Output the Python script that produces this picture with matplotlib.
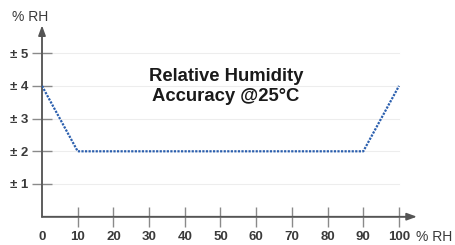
import matplotlib
matplotlib.use("Agg")
import matplotlib.pyplot as plt

plt.rcParams['font.family'] = ['Liberation Sans', 'DejaVu Sans']

humidity = [0, 10, 90, 100]
accuracy = [4, 2, 2, 4]
x_ticks = [0, 10, 20, 30, 40, 50, 60, 70, 80, 90, 100]
y_ticks = [1, 2, 3, 4, 5]
y_labels = ["± 1", "± 2", "± 3", "± 4", "± 5"]

W, H = 456, 245
fig = plt.figure(figsize=(W / 100, H / 100), dpi=100)
px_unit_x = 3.57
px_unit_y = 32.7
x0, y0 = 42, 216.7
xmax, ymax = 105, 5.85
ax = fig.add_axes([x0 / W, (H - y0) / H, xmax * px_unit_x / W, ymax * px_unit_y / H])
ax.set_xlim(0, xmax)
ax.set_ylim(0, ymax)
for s in ax.spines.values():
    s.set_visible(False)

axis_col = '#8a8a8a'
lab_col = '#3a3a3a'
# gridlines
for yv in y_ticks:
    ax.plot([0, 100], [yv, yv], color='#ededed', lw=0.8, zorder=1)

# axes with arrows
ax.annotate('', xy=(xmax, 0), xytext=(0, 0),
            arrowprops=dict(arrowstyle='-|>,head_length=0.6,head_width=0.22', color='#555555', lw=1.2,
                            shrinkA=0, shrinkB=0), annotation_clip=False)
ax.annotate('', xy=(0, ymax), xytext=(0, 0),
            arrowprops=dict(arrowstyle='-|>,head_length=0.6,head_width=0.22', color='#555555', lw=1.2,
                            shrinkA=0, shrinkB=0), annotation_clip=False)
ax.plot([0, 0], [0, ymax - 0.2], color=axis_col, lw=1.2, clip_on=False)
ax.plot([0, xmax - 2], [0, 0], color=axis_col, lw=1.2, clip_on=False)

ax.plot(humidity, accuracy, color='#2b5fae', lw=1.6, ls=(0, (1, 0.6)), zorder=3)

ax.set_xticks(x_ticks)
ax.set_xticklabels([str(v) for v in x_ticks])
ax.set_yticks(y_ticks)
ax.set_yticklabels(y_labels)
ax.tick_params(axis='both', direction='inout', length=14, width=1, color=axis_col,
               labelsize=9.5, labelcolor=lab_col)
ax.tick_params(axis='x', pad=3)
ax.tick_params(axis='y', pad=3)
for lab in ax.get_xticklabels() + ax.get_yticklabels():
    lab.set_fontweight('bold')
ax.xaxis.get_major_ticks()[0].tick1line.set_visible(False)

ax.text(51.5, 3.98, "Relative Humidity\nAccuracy @25°C", ha='center', va='center',
        fontsize=13.3, fontweight='bold', color='#1a1a1a', linespacing=1.25)

fig.text(30 / W, 1 - 17 / H, "% RH", ha='center', va='center', fontsize=10, color=lab_col)
fig.text(434 / W, 1 - 237 / H, "% RH", ha='center', va='center', fontsize=10, color=lab_col)

fig.savefig("out.png", dpi=100, facecolor='white')
